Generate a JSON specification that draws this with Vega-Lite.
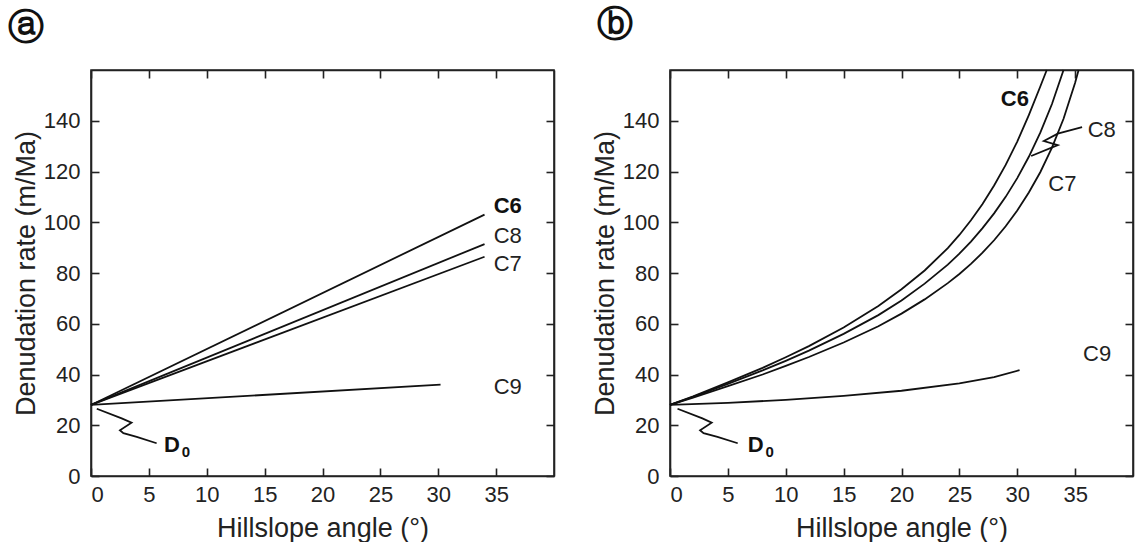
{
  "$schema": "https://vega.github.io/schema/vega-lite/v6.json",
  "background": "white",
  "padding": {"left": 7, "top": 6, "right": 0, "bottom": 0},
  "spacing": 34,
  "config": {
    "font": "Liberation Sans",
    "view": {"stroke": "#222", "strokeWidth": 1.6},
    "axis": {
      "domainColor": "#222", "domainWidth": 1.6,
      "tickColor": "#222", "tickWidth": 1.6, "tickSize": -8,
      "labelFontSize": 22, "labelColor": "#222", "labelFont": "Liberation Sans",
      "titleFontSize": 27, "titleFontWeight": "normal", "titleColor": "#222", "titleFont": "Liberation Sans",
      "grid": false
    },
    "axisX": {"titlePadding": 10, "labelPadding": 16},
    "axisY": {"titlePadding": 3, "labelPadding": 19}
  },
  "datasets": {
    "linesA": [
      {"series": "C6", "i": 0, "angle": 0, "rate": 28},
      {"series": "C6", "i": 1, "angle": 34, "rate": 103},
      {"series": "C8", "i": 0, "angle": 0, "rate": 28},
      {"series": "C8", "i": 1, "angle": 34, "rate": 91.4},
      {"series": "C7", "i": 0, "angle": 0, "rate": 28},
      {"series": "C7", "i": 1, "angle": 34, "rate": 86.4},
      {"series": "C9", "i": 0, "angle": 0, "rate": 28},
      {"series": "C9", "i": 1, "angle": 30.2, "rate": 36},
      {"series": "D0", "i": 0, "angle": 0.5, "rate": 26.5},
      {"series": "D0", "i": 1, "angle": 2.65, "rate": 22.7},
      {"series": "D0", "i": 2, "angle": 3.5, "rate": 21.0},
      {"series": "D0", "i": 3, "angle": 2.5, "rate": 18.0},
      {"series": "D0", "i": 4, "angle": 2.8, "rate": 16.9},
      {"series": "D0", "i": 5, "angle": 3.95, "rate": 15.4},
      {"series": "D0", "i": 6, "angle": 5.67, "rate": 12.9}
    ],
    "labelsA": [
      {"label": "C6", "angle": 36.0, "rate": 106.6},
      {"label": "C8", "angle": 36.0, "rate": 94.4},
      {"label": "C7", "angle": 36.0, "rate": 83.6},
      {"label": "C9", "angle": 36.0, "rate": 35.2},
      {"label": "D", "angle": 7.0, "rate": 12.4}
    ],
    "linesB": [
      {"series": "C6", "i": 0, "angle": 0, "rate": 28},
      {"series": "C6", "i": 1, "angle": 2, "rate": 31.4},
      {"series": "C6", "i": 2, "angle": 5, "rate": 36.9},
      {"series": "C6", "i": 3, "angle": 8, "rate": 42.6},
      {"series": "C6", "i": 4, "angle": 10, "rate": 46.8},
      {"series": "C6", "i": 5, "angle": 12, "rate": 51.2},
      {"series": "C6", "i": 6, "angle": 15, "rate": 58.5},
      {"series": "C6", "i": 7, "angle": 18, "rate": 67.0},
      {"series": "C6", "i": 8, "angle": 20, "rate": 73.6},
      {"series": "C6", "i": 9, "angle": 22, "rate": 81.0},
      {"series": "C6", "i": 10, "angle": 24, "rate": 89.8},
      {"series": "C6", "i": 11, "angle": 25, "rate": 95.0},
      {"series": "C6", "i": 12, "angle": 26, "rate": 100.8},
      {"series": "C6", "i": 13, "angle": 27, "rate": 107.2},
      {"series": "C6", "i": 14, "angle": 28, "rate": 114.5},
      {"series": "C6", "i": 15, "angle": 29, "rate": 122.6},
      {"series": "C6", "i": 16, "angle": 30, "rate": 131.8},
      {"series": "C6", "i": 17, "angle": 31, "rate": 142.2},
      {"series": "C6", "i": 18, "angle": 32, "rate": 153.6},
      {"series": "C6", "i": 19, "angle": 32.55, "rate": 160},
      {"series": "C8", "i": 0, "angle": 0, "rate": 28},
      {"series": "C8", "i": 1, "angle": 2, "rate": 31.2},
      {"series": "C8", "i": 2, "angle": 5, "rate": 36.3},
      {"series": "C8", "i": 3, "angle": 8, "rate": 41.6},
      {"series": "C8", "i": 4, "angle": 10, "rate": 45.4},
      {"series": "C8", "i": 5, "angle": 12, "rate": 49.4},
      {"series": "C8", "i": 6, "angle": 15, "rate": 56.0},
      {"series": "C8", "i": 7, "angle": 18, "rate": 63.4},
      {"series": "C8", "i": 8, "angle": 20, "rate": 69.2},
      {"series": "C8", "i": 9, "angle": 22, "rate": 75.8},
      {"series": "C8", "i": 10, "angle": 24, "rate": 83.3},
      {"series": "C8", "i": 11, "angle": 25, "rate": 87.6},
      {"series": "C8", "i": 12, "angle": 26, "rate": 92.4},
      {"series": "C8", "i": 13, "angle": 27, "rate": 97.7},
      {"series": "C8", "i": 14, "angle": 28, "rate": 103.5},
      {"series": "C8", "i": 15, "angle": 29, "rate": 110.0},
      {"series": "C8", "i": 16, "angle": 30, "rate": 117.4},
      {"series": "C8", "i": 17, "angle": 31, "rate": 125.8},
      {"series": "C8", "i": 18, "angle": 32, "rate": 135.4},
      {"series": "C8", "i": 19, "angle": 33, "rate": 146.6},
      {"series": "C8", "i": 20, "angle": 34, "rate": 160},
      {"series": "C7", "i": 0, "angle": 0, "rate": 28},
      {"series": "C7", "i": 1, "angle": 2, "rate": 30.9},
      {"series": "C7", "i": 2, "angle": 5, "rate": 35.4},
      {"series": "C7", "i": 3, "angle": 8, "rate": 40.0},
      {"series": "C7", "i": 4, "angle": 10, "rate": 43.4},
      {"series": "C7", "i": 5, "angle": 12, "rate": 46.9},
      {"series": "C7", "i": 6, "angle": 15, "rate": 52.6},
      {"series": "C7", "i": 7, "angle": 18, "rate": 59.0},
      {"series": "C7", "i": 8, "angle": 20, "rate": 64.0},
      {"series": "C7", "i": 9, "angle": 22, "rate": 69.6},
      {"series": "C7", "i": 10, "angle": 24, "rate": 76.0},
      {"series": "C7", "i": 11, "angle": 25, "rate": 79.6},
      {"series": "C7", "i": 12, "angle": 26, "rate": 83.6},
      {"series": "C7", "i": 13, "angle": 27, "rate": 88.0},
      {"series": "C7", "i": 14, "angle": 28, "rate": 92.9},
      {"series": "C7", "i": 15, "angle": 29, "rate": 98.4},
      {"series": "C7", "i": 16, "angle": 30, "rate": 104.6},
      {"series": "C7", "i": 17, "angle": 31, "rate": 111.7},
      {"series": "C7", "i": 18, "angle": 32, "rate": 119.8},
      {"series": "C7", "i": 19, "angle": 33, "rate": 129.4},
      {"series": "C7", "i": 20, "angle": 34, "rate": 140.8},
      {"series": "C7", "i": 21, "angle": 35, "rate": 155.0},
      {"series": "C7", "i": 22, "angle": 35.3, "rate": 160},
      {"series": "C9", "i": 0, "angle": 0, "rate": 28},
      {"series": "C9", "i": 1, "angle": 5, "rate": 28.8},
      {"series": "C9", "i": 2, "angle": 10, "rate": 30.0},
      {"series": "C9", "i": 3, "angle": 15, "rate": 31.6},
      {"series": "C9", "i": 4, "angle": 20, "rate": 33.6},
      {"series": "C9", "i": 5, "angle": 25, "rate": 36.5},
      {"series": "C9", "i": 6, "angle": 28, "rate": 39.0},
      {"series": "C9", "i": 7, "angle": 30.2, "rate": 41.7},
      {"series": "D0", "i": 0, "angle": 0.65, "rate": 26.5},
      {"series": "D0", "i": 1, "angle": 2.8, "rate": 22.7},
      {"series": "D0", "i": 2, "angle": 3.6, "rate": 21.0},
      {"series": "D0", "i": 3, "angle": 2.6, "rate": 18.0},
      {"series": "D0", "i": 4, "angle": 2.9, "rate": 16.9},
      {"series": "D0", "i": 5, "angle": 4.1, "rate": 15.4},
      {"series": "D0", "i": 6, "angle": 5.85, "rate": 12.9},
      {"series": "C8 leader", "i": 0, "angle": 35.6, "rate": 137.5},
      {"series": "C8 leader", "i": 1, "angle": 33.5, "rate": 134.9},
      {"series": "C8 leader", "i": 2, "angle": 32.3, "rate": 132.0},
      {"series": "C8 leader", "i": 3, "angle": 33.5, "rate": 130.4},
      {"series": "C8 leader", "i": 4, "angle": 31.2, "rate": 126.1}
    ],
    "labelsB": [
      {"label": "C6", "angle": 29.8, "rate": 148.5},
      {"label": "C8", "angle": 37.3, "rate": 136.4},
      {"label": "C7", "angle": 33.9, "rate": 115.2},
      {"label": "C9", "angle": 36.9, "rate": 47.9},
      {"label": "D", "angle": 7.4, "rate": 12.4}
    ]
  },
  "hconcat": [
    {
      "title": {"text": "ⓐ", "anchor": "start", "frame": "bounds", "font": "DejaVu Sans", "fontSize": 36, "fontWeight": "bold", "color": "#111", "offset": 22, "dx": -4},
      "width": 463,
      "height": 406,
      "resolve": {"axis": {"x": "independent", "y": "independent"}},
      "layer": [
        {
          "data": {"name": "linesA"},
          "mark": {"type": "line", "color": "#111", "strokeWidth": 1.8},
          "encoding": {
            "x": {"field": "angle", "type": "quantitative", "scale": {"domain": [0, 40], "nice": false},
                  "axis": {"title": "Hillslope angle (°)", "values": [0, 5, 10, 15, 20, 25, 30, 35]}},
            "y": {"field": "rate", "type": "quantitative", "scale": {"domain": [0, 160], "nice": false},
                  "axis": {"title": "Denudation rate (m/Ma)", "values": [0, 20, 40, 60, 80, 100, 120, 140]}},
            "detail": {"field": "series"},
            "order": {"field": "i", "type": "quantitative"}
          }
        },
        {
          "data": {"name": "labelsA"},
          "transform": [{"filter": "datum.label == 'C8' || datum.label == 'C7' || datum.label == 'C9'"}],
          "mark": {"type": "text", "fontSize": 22, "color": "#222", "font": "Liberation Sans"},
          "encoding": {
            "x": {"field": "angle", "type": "quantitative",
                  "axis": {"orient": "top", "labels": false, "title": null, "values": [0, 5, 10, 15, 20, 25, 30, 35]}},
            "y": {"field": "rate", "type": "quantitative",
                  "axis": {"orient": "right", "labels": false, "title": null, "values": [0, 20, 40, 60, 80, 100, 120, 140]}},
            "text": {"field": "label"}
          }
        },
        {
          "data": {"name": "labelsA"},
          "transform": [{"filter": "datum.label == 'C6' || datum.label == 'D'"}],
          "mark": {"type": "text", "fontSize": 22, "fontWeight": "bold", "color": "#111", "font": "Liberation Sans"},
          "encoding": {
            "x": {"field": "angle", "type": "quantitative", "axis": null},
            "y": {"field": "rate", "type": "quantitative", "axis": null},
            "text": {"field": "label"}
          }
        },
        {
          "data": {"name": "labelsA"},
          "transform": [{"filter": "datum.label == 'D'"}],
          "mark": {"type": "text", "fontSize": 15, "fontWeight": "bold", "color": "#111", "font": "Liberation Sans", "dx": 14, "dy": 7},
          "encoding": {
            "x": {"field": "angle", "type": "quantitative", "axis": null},
            "y": {"field": "rate", "type": "quantitative", "axis": null},
            "text": {"value": "0"}
          }
        }
      ]
    },
    {
      "title": {"text": "ⓑ", "anchor": "start", "frame": "bounds", "font": "DejaVu Sans", "fontSize": 36, "fontWeight": "bold", "color": "#111", "offset": 22, "dx": 6},
      "width": 463,
      "height": 406,
      "resolve": {"axis": {"x": "independent", "y": "independent"}},
      "layer": [
        {
          "data": {"name": "linesB"},
          "mark": {"type": "line", "color": "#111", "strokeWidth": 1.8},
          "encoding": {
            "x": {"field": "angle", "type": "quantitative", "scale": {"domain": [0, 40], "nice": false},
                  "axis": {"title": "Hillslope angle (°)", "values": [0, 5, 10, 15, 20, 25, 30, 35]}},
            "y": {"field": "rate", "type": "quantitative", "scale": {"domain": [0, 160], "nice": false},
                  "axis": {"title": "Denudation rate (m/Ma)", "values": [0, 20, 40, 60, 80, 100, 120, 140]}},
            "detail": {"field": "series"},
            "order": {"field": "i", "type": "quantitative"}
          }
        },
        {
          "data": {"name": "labelsB"},
          "transform": [{"filter": "datum.label == 'C8' || datum.label == 'C7' || datum.label == 'C9'"}],
          "mark": {"type": "text", "fontSize": 22, "color": "#222", "font": "Liberation Sans"},
          "encoding": {
            "x": {"field": "angle", "type": "quantitative",
                  "axis": {"orient": "top", "labels": false, "title": null, "values": [0, 5, 10, 15, 20, 25, 30, 35]}},
            "y": {"field": "rate", "type": "quantitative",
                  "axis": {"orient": "right", "labels": false, "title": null, "values": [0, 20, 40, 60, 80, 100, 120, 140]}},
            "text": {"field": "label"}
          }
        },
        {
          "data": {"name": "labelsB"},
          "transform": [{"filter": "datum.label == 'C6' || datum.label == 'D'"}],
          "mark": {"type": "text", "fontSize": 22, "fontWeight": "bold", "color": "#111", "font": "Liberation Sans"},
          "encoding": {
            "x": {"field": "angle", "type": "quantitative", "axis": null},
            "y": {"field": "rate", "type": "quantitative", "axis": null},
            "text": {"field": "label"}
          }
        },
        {
          "data": {"name": "labelsB"},
          "transform": [{"filter": "datum.label == 'D'"}],
          "mark": {"type": "text", "fontSize": 15, "fontWeight": "bold", "color": "#111", "font": "Liberation Sans", "dx": 14, "dy": 7},
          "encoding": {
            "x": {"field": "angle", "type": "quantitative", "axis": null},
            "y": {"field": "rate", "type": "quantitative", "axis": null},
            "text": {"value": "0"}
          }
        }
      ]
    }
  ]
}
